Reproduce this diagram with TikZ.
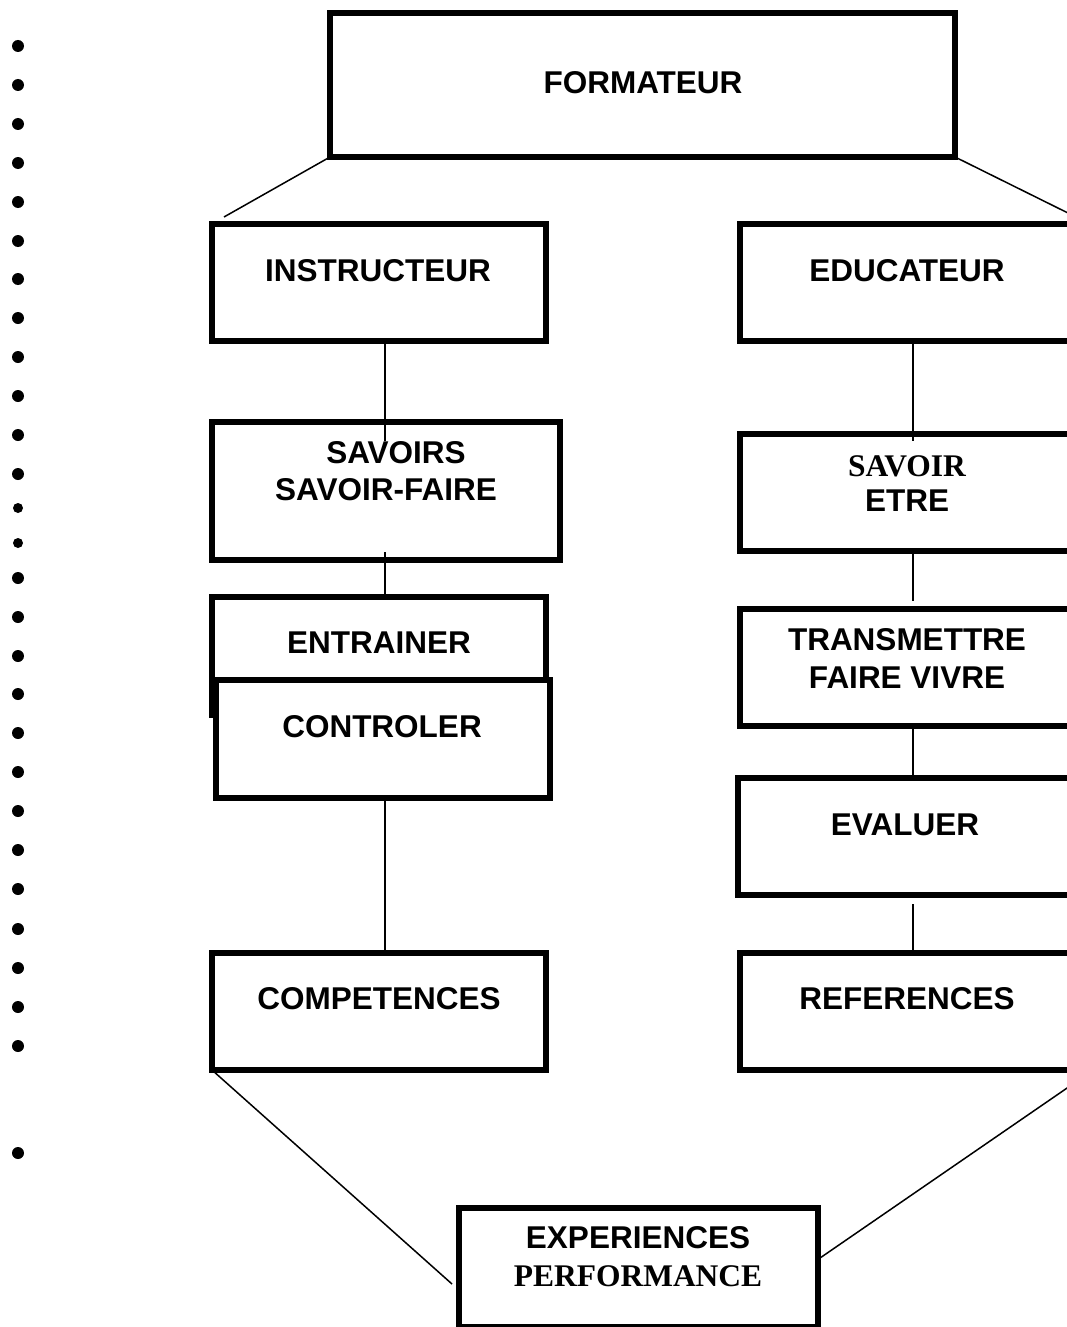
\documentclass[tikz,border=0pt]{standalone}
\usepackage{fontspec}
\setmainfont{Liberation Sans}
\newfontfamily\tnr{Liberation Serif}
\usetikzlibrary{calc}
\begin{document}
\begin{tikzpicture}[x=1pt,y=-1pt,
  box/.style={draw, line width=5.5pt, fill=white, inner sep=0pt, outer sep=0pt},
  lbl/.style={font=\bfseries\fontsize{31.5}{37}\selectfont, inner sep=0pt},
  slbl/.style={font=\tnr\bfseries\fontsize{31.5}{37}\selectfont, inner sep=0pt},
  conn/.style={line width=1.5pt}]
\useasboundingbox (0,0) rectangle (1067,1327);
\fill[white] (0,0) rectangle (1067,1327);
\clip (0,0) rectangle (1067,1327);

% bullets
\foreach \yy in {46,85,124,163,202,241,279,318,357,396,435,474,578,617,656,694,733,772,811,850,889,929,968,1007,1046,1153}
  \fill (18,\yy) circle (6pt);
\foreach \yy in {508,543}
  \fill (18,\yy) circle (5pt);

% boxes
\node[box, minimum width=625pt, minimum height=144pt] (form) at (642.5,85) {};
\node[box, minimum width=334pt, minimum height=117pt] (instr) at (379,282.5) {};
\node[box, minimum width=335pt, minimum height=117pt] (educ) at (907.5,282.5) {};
\node[box, minimum width=348pt, minimum height=138pt] (savoirs) at (386,491) {};
\node[box, minimum width=335pt, minimum height=117pt] (savetre) at (907.5,492.5) {};
\node[box, minimum width=334pt, minimum height=118pt] (entr) at (379,656) {};
\node[box, minimum width=334pt, minimum height=118pt] (ctrl) at (383,739) {};
\node[box, minimum width=335pt, minimum height=117pt] (trans) at (907.5,667.5) {};
\node[box, minimum width=337pt, minimum height=117pt] (eval) at (906.5,836.5) {};
\node[box, minimum width=334pt, minimum height=117pt] (compet) at (379,1011.5) {};
\node[box, minimum width=335pt, minimum height=117pt] (refs) at (907.5,1011.5) {};
\node[box, minimum width=359pt, minimum height=119pt] (exper) at (638.5,1267.5) {};

% free ends of connectors
\coordinate (fl) at (224,217);
\coordinate (fr) at (1070,214);
\coordinate (s1) at (385,441);
\coordinate (s2) at (385,552);
\coordinate (e1) at (913,441);
\coordinate (e2) at (913,601);
\coordinate (e3) at (913,904);
\coordinate (xl) at (452,1284);
\coordinate (rr) at (1070,1086);
\coordinate (xr) at (820,1258);

% connectors
\draw[conn] (form.south west) -- (fl);
\draw[conn] (form.south east) -- (fr);
\draw[conn] (s1 |- instr.south) -- (s1);
\draw[conn] (s2) -- (s2 |- entr.north);
\draw[conn] (s2 |- ctrl.south) -- (s2 |- compet.north);
\draw[conn] (e1 |- educ.south) -- (e1);
\draw[conn] (e1 |- savetre.south) -- (e2);
\draw[conn] (e1 |- trans.south) -- (e1 |- eval.north);
\draw[conn] (e3) -- (e3 |- refs.north);
\draw[conn] (compet.south west) -- (xl);
\draw[conn] (rr) -- (xr);

% labels
\node[lbl] (tform) at (643,83) {FORMATEUR};
\node[lbl] (tinstr) at (378,271) {INSTRUCTEUR};
\node[lbl] (teduc) at (907,271) {EDUCATEUR};
\node[lbl] (tsav1) at (396,453) {SAVOIRS};
\node[lbl] (tsav2) at (386,490) {SAVOIR-FAIRE};
\node[slbl] (tse1) at (907,466) {SAVOIR};
\node[lbl] (tse2) at (907,501) {ETRE};
\node[lbl] (tentr) at (379,643) {ENTRAINER};
\node[lbl] (tctrl) at (382,727) {CONTROLER};
\node[lbl] (ttr1) at (907,640) {TRANSMETTRE};
\node[lbl] (ttr2) at (907,678) {FAIRE VIVRE};
\node[lbl] (teval) at (905,825) {EVALUER};
\node[lbl] (tcomp) at (379,999) {COMPETENCES};
\node[lbl] (trefs) at (907,999) {REFERENCES};
\node[lbl] (tex1) at (638,1238) {EXPERIENCES};
\node[slbl] (tex2) at (638,1276) {PERFORMANCE};
\end{tikzpicture}
\end{document}
